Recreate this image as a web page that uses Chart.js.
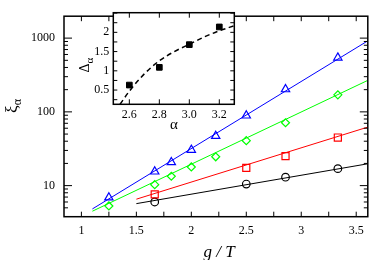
<!DOCTYPE html>
<html>
<head>
<meta charset="utf-8">
<script src="https://cdn.jsdelivr.net/npm/chart.js@4.4.1/dist/chart.umd.min.js"></script>
<style>
html, body { margin: 0; padding: 0; background: #fff; }
#wrap { position: relative; width: 374px; height: 260px; }
canvas { position: absolute; left: 0; top: 0; }
</style>
</head>
<body>
<div id="wrap">
  <canvas id="main" width="374" height="260"></canvas>
  <canvas id="inset" width="374" height="260"></canvas>
</div>
<script>
// main panel: xi_alpha vs g/T
var gTAll = [1.25, 1.667, 1.818, 2.0, 2.222, 2.5, 2.857, 3.333];
var xiBlue = [6.9, 15.5, 20.7, 30.5, 47, 89, 202, 543];
var xiGreen = [5.3, 10.3, 13.4, 17.9, 24.6, 40.7, 71.2, 170];
var gTFew = [1.667, 2.5, 2.857, 3.333];
var xiRed = [7.6, 17.4, 25.1, 44.9];
var xiBlack = [6.0, 10.5, 13.0, 17.0];

// fitted lines (end points)
var fitX = [1.1, 3.6];
var fitBlue = [4.83, 908];
var fitGreen = [4.5, 265];
var fitXShort = [1.5, 3.6];
var fitRed = [6.55, 61.8];
var fitBlack = [5.7, 19.7];

// inset: Delta_alpha vs alpha
var alphaPts = [2.6, 2.8, 3.0, 3.2];
var deltaPts = [0.63, 1.09, 1.68, 2.14];
var alphaCurve = [2.538, 2.6, 2.7, 2.8, 2.9, 3.0, 3.1, 3.2, 3.3];
var deltaCurve = [0.13, 0.47, 0.92, 1.26, 1.5, 1.69, 1.88, 2.04, 2.17];

var xTicksMain = [1, 1.5, 2, 2.5, 3, 3.5];
var yTicksMain = [10, 100, 1000];
var yTicksInset = [0.5, 1, 1.5, 2];

function pts(xs, ys) {
  return xs.map(function (x, i) { return { x: x, y: ys[i] }; });
}

var serif = "'Liberation Serif', 'DejaVu Serif', serif";

function near(v, step) {
  return Math.abs(v / step - Math.round(v / step)) < 1e-6;
}

function inList(list, v) {
  return list.some(function (t) { return Math.abs(t - v) < 1e-6; });
}

// ticks pointing inward on all four sides, plus a closed frame
function frameTicks(opt) {
  return {
    id: 'frameTicks',
    beforeDraw: function (chart) {
      if (!opt.fill) return;
      var a = chart.chartArea, ctx = chart.ctx;
      ctx.save();
      ctx.fillStyle = '#fff';
      ctx.fillRect(a.left, a.top, a.right - a.left, a.bottom - a.top);
      ctx.restore();
    },
    afterDraw: function (chart) {
      var ctx = chart.ctx, a = chart.chartArea;
      var xs = chart.scales.x, ys = chart.scales.y;
      ctx.save();
      ctx.strokeStyle = '#000';
      ctx.lineWidth = 1;
      ctx.beginPath();
      xs.ticks.forEach(function (t) {
        var len = opt.xLen(t.value);
        if (!len) return;
        var p = xs.getPixelForValue(t.value);
        ctx.moveTo(p, a.bottom); ctx.lineTo(p, a.bottom - len);
        ctx.moveTo(p, a.top); ctx.lineTo(p, a.top + len);
      });
      ys.ticks.forEach(function (t) {
        var len = opt.yLen(t.value);
        if (!len) return;
        var p = ys.getPixelForValue(t.value);
        ctx.moveTo(a.left, p); ctx.lineTo(a.left + len, p);
        ctx.moveTo(a.right, p); ctx.lineTo(a.right - len, p);
      });
      ctx.stroke();
      ctx.lineWidth = opt.frame;
      ctx.strokeRect(a.left, a.top, a.right - a.left, a.bottom - a.top);

      // axis titles
      ctx.fillStyle = '#000';
      opt.titles.forEach(function (tt) {
        ctx.save();
        ctx.translate(tt.x, tt.y);
        if (tt.rot) ctx.rotate(-Math.PI / 2);
        ctx.font = tt.style + ' ' + tt.size + 'px ' + serif;
        var w1 = ctx.measureText(tt.text).width;
        var w2 = 0;
        if (tt.sub) {
          ctx.font = tt.subSize + 'px ' + serif;
          w2 = ctx.measureText(tt.sub).width;
        }
        var x0 = -(w1 + w2) / 2;
        ctx.textBaseline = 'alphabetic';
        ctx.textAlign = 'left';
        ctx.font = tt.style + ' ' + tt.size + 'px ' + serif;
        ctx.fillText(tt.text, x0, tt.base);
        if (tt.sub) {
          ctx.font = tt.subSize + 'px ' + serif;
          ctx.fillText(tt.sub, x0 + w1, tt.base + tt.drop);
        }
        ctx.restore();
      });
      ctx.restore();
    }
  };
}

new Chart(document.getElementById('main'), {
  type: 'scatter',
  data: {
    datasets: [
      { data: pts(fitX, fitBlue), showLine: true, borderColor: '#0000ff', borderWidth: 1, pointRadius: 0 },
      { data: pts(fitX, fitGreen), showLine: true, borderColor: '#00ff00', borderWidth: 1, pointRadius: 0 },
      { data: pts(fitXShort, fitRed), showLine: true, borderColor: '#ff0000', borderWidth: 1, pointRadius: 0 },
      { data: pts(fitXShort, fitBlack), showLine: true, borderColor: '#000000', borderWidth: 1, pointRadius: 0 },
      { data: pts(gTAll, xiBlue), pointStyle: 'triangle', pointRadius: 4.8, borderColor: '#0000ff', backgroundColor: 'rgba(0,0,0,0)', borderWidth: 1.2 },
      { data: pts(gTAll, xiGreen), pointStyle: 'rectRot', pointRadius: 4, borderColor: '#00ff00', backgroundColor: 'rgba(0,0,0,0)', borderWidth: 1.2 },
      { data: pts(gTFew, xiRed), pointStyle: 'rect', pointRadius: 5, borderColor: '#ff0000', backgroundColor: 'rgba(0,0,0,0)', borderWidth: 1.2 },
      { data: pts(gTFew, xiBlack), pointStyle: 'circle', pointRadius: 3.8, borderColor: '#000000', backgroundColor: 'rgba(0,0,0,0)', borderWidth: 1.2 }
    ]
  },
  options: {
    responsive: false,
    animation: false,
    devicePixelRatio: 1,
    events: [],
    layout: { padding: { left: 0, right: 1, top: 1.5, bottom: 0 } },
    plugins: { legend: { display: false }, tooltip: { enabled: false } },
    scales: {
      x: {
        type: 'linear', min: 0.8417, max: 3.6055,
        afterFit: function (s) { s.height = 43.3; },
        grid: { display: false, drawTicks: false },
        border: { display: false },
        ticks: {
          stepSize: 0.25, includeBounds: false, autoSkip: false, maxRotation: 0, padding: 7,
          color: '#000', font: { family: serif, size: 12 },
          callback: function (v) { return inList(xTicksMain, v) ? String(v) : ''; }
        }
      },
      y: {
        type: 'logarithmic', min: 3.79, max: 1982,
        afterFit: function (s) { s.width = 64; },
        grid: { display: false, drawTicks: false },
        border: { display: false },
        ticks: {
          autoSkip: false, padding: 9,
          color: '#000', font: { family: serif, size: 12 },
          callback: function (v) { return yTicksMain.indexOf(v) >= 0 ? String(v) : ''; }
        }
      }
    }
  },
  plugins: [frameTicks({
    frame: 1.5,
    xLen: function (v) { return near(v, 0.25) ? 5 : 0; },
    yLen: function (v) {
      var e = Math.pow(10, Math.floor(Math.log10(v) + 1e-9));
      var m = v / e;
      if (Math.abs(m - Math.round(m)) > 1e-6) return 0;
      return Math.round(m) === 1 ? 8 : 4;
    },
    titles: [
      { text: 'g / T', style: 'italic', size: 17, x: 219, y: 0, base: 256.5 },
      { text: '\u03be', sub: '\u03b1', style: '', size: 17, subSize: 12, drop: 4, rot: true, x: 15, y: 106, base: 2 }
    ]
  })]
});

new Chart(document.getElementById('inset'), {
  type: 'scatter',
  data: {
    datasets: [
      { data: pts(alphaCurve, deltaCurve), showLine: true, borderColor: '#000', borderWidth: 1.5, borderDash: [5, 3.5], pointRadius: 0, cubicInterpolationMode: 'monotone' },
      { data: pts(alphaPts, deltaPts), pointStyle: 'rect', pointRadius: 4, borderColor: '#000', backgroundColor: '#000', borderWidth: 1 }
    ]
  },
  options: {
    responsive: false,
    animation: false,
    devicePixelRatio: 1,
    events: [],
    layout: { padding: { left: 73.3, right: 139.7, top: 12.7, bottom: 125.7 } },
    plugins: { legend: { display: false }, tooltip: { enabled: false } },
    scales: {
      x: {
        type: 'linear', min: 2.493, max: 3.3,
        afterFit: function (s) { s.height = 30; },
        grid: { display: false, drawTicks: false },
        border: { display: false },
        ticks: {
          stepSize: 0.2, includeBounds: false, autoSkip: false, maxRotation: 0, padding: 3,
          color: '#000', font: { family: serif, size: 12 },
          callback: function (v) { return v.toFixed(1); }
        }
      },
      y: {
        type: 'linear', min: 0.13, max: 2.51,
        afterFit: function (s) { s.width = 40; },
        grid: { display: false, drawTicks: false },
        border: { display: false },
        ticks: {
          stepSize: 0.25, includeBounds: false, autoSkip: false, padding: 4,
          color: '#000', font: { family: serif, size: 12 },
          callback: function (v) { return inList(yTicksInset, v) ? String(v) : ''; }
        }
      }
    }
  },
  plugins: [frameTicks({
    fill: true,
    frame: 1.5,
    xLen: function (v) { return near(v, 0.2) ? 5 : 0; },
    yLen: function (v) { return near(v, 0.25) ? 4 : 0; },
    titles: [
      { text: '\u03b1', style: '', size: 15, x: 174, y: 0, base: 129 },
      { text: '\u0394', sub: '\u03b1', style: '', size: 14, subSize: 11, drop: 4, rot: true, x: 85, y: 65, base: 4 }
    ]
  })]
});
</script>
</body>
</html>
